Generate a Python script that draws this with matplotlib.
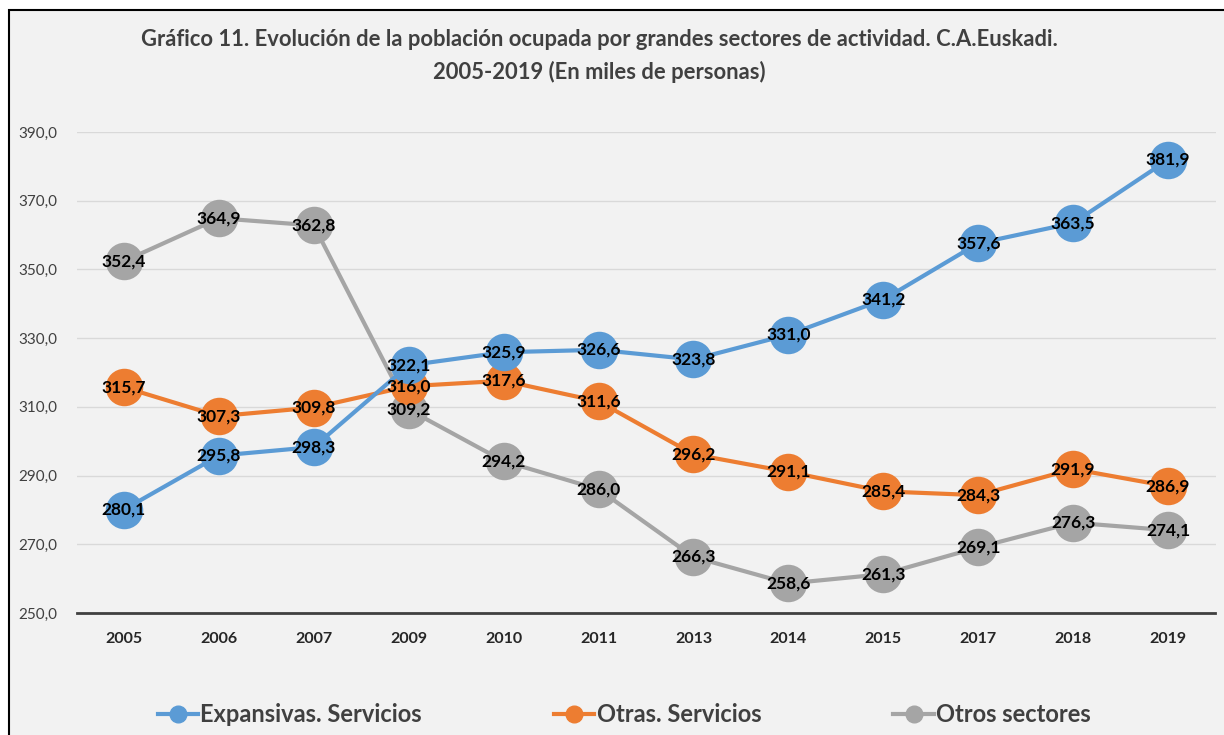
import matplotlib
matplotlib.use("Agg")
import matplotlib.pyplot as plt
from matplotlib.patches import Rectangle
from matplotlib.lines import Line2D

years = ["2005", "2006", "2007", "2009", "2010", "2011", "2013", "2014", "2015", "2017", "2018", "2019"]
expansivas = [280.1, 295.8, 298.3, 322.1, 325.9, 326.6, 323.8, 331.0, 341.2, 357.6, 363.5, 381.9]
otras = [315.7, 307.3, 309.8, 316.0, 317.6, 311.6, 296.2, 291.1, 285.4, 284.3, 291.9, 286.9]
otros_sect = [352.4, 364.9, 362.8, 309.2, 294.2, 286.0, 266.3, 258.6, 261.3, 269.1, 276.3, 274.1]
series_names = ["Expansivas. Servicios", "Otras. Servicios", "Otros sectores"]
yticks = [250, 270, 290, 310, 330, 350, 370, 390]
title = "Gráfico 11. Evolución de la población ocupada por grandes sectores de actividad. C.A.Euskadi.\n2005-2019 (En miles de personas)"

colors = ["#5b9bd5", "#ed7d31", "#a5a5a5"]
FAM = ["Lato", "DejaVu Sans"]
plt.rcParams['font.family'] = FAM

W, H = 1224, 735
fig = plt.figure(figsize=(W / 100, H / 100), dpi=100, facecolor="white")
bg = "#f2f2f2"
border = Rectangle((9 / W, -0.1), 1.2, 1.1 - 10 / H, transform=fig.transFigure,
                   facecolor=bg, edgecolor="black", linewidth=1.5, zorder=-10)
fig.patches.append(border)

ax = fig.add_axes([76.5 / W, 1 - 613 / H, (1215.5 - 76.5) / W, (613 - 132) / H])
ax.patch.set_visible(False)
ax.set_zorder(5)

x = list(range(len(years)))
all_series = [expansivas, otras, otros_sect]
z = {0: 5, 1: 4, 2: 3}
for i, (vals, c) in enumerate(zip(all_series, colors)):
    ax.plot(x, vals, color=c, linewidth=3, marker="o", markersize=27,
            markeredgewidth=0, zorder=z[i])
    for xi, v in zip(x, vals):
        ax.text(xi, v, f"{v:.1f}".replace(".", ","), ha="center", va="center",
                fontsize=12.5, fontweight="bold", color="black", zorder=10)

ax.set_xlim(-0.5, len(years) - 0.5)
ax.set_ylim(250, 390)
ax.set_yticks(yticks)
ax.set_yticklabels([f"{t:.1f}".replace(".", ",") for t in yticks], fontsize=11, color="#404040")
ax.set_xticks(x)
ax.set_xticklabels(years, fontsize=11.5, fontweight="bold", color="#262626")
ax.tick_params(axis="both", length=0)
ax.tick_params(axis="y", pad=14)
ax.tick_params(axis="x", pad=14)
ax.grid(axis="y", color="#d9d9d9", linewidth=1)
ax.set_axisbelow(True)
for s in ["top", "right", "left"]:
    ax.spines[s].set_visible(False)
ax.spines["bottom"].set_color("#404040")
ax.spines["bottom"].set_linewidth(2)

fig.text(0.49, 1 - 56 / H, title, ha="center", va="center", fontsize=15.8, fontweight="bold",
         color="#404040", linespacing=1.6)

handles = [Line2D([0], [0], color=c, linewidth=3, marker="o", markersize=12) for c in colors]
leg = fig.legend(handles, series_names, loc="center", bbox_to_anchor=(0.51, 1 - 715 / H),
                 ncol=3, frameon=False, handlelength=1.7, handletextpad=0.1,
                 columnspacing=5.6, prop={"family": FAM, "size": 17, "weight": "bold"})
for t in leg.get_texts():
    t.set_color("#404040")

fig.savefig("out.png", dpi=100, facecolor=fig.get_facecolor())
